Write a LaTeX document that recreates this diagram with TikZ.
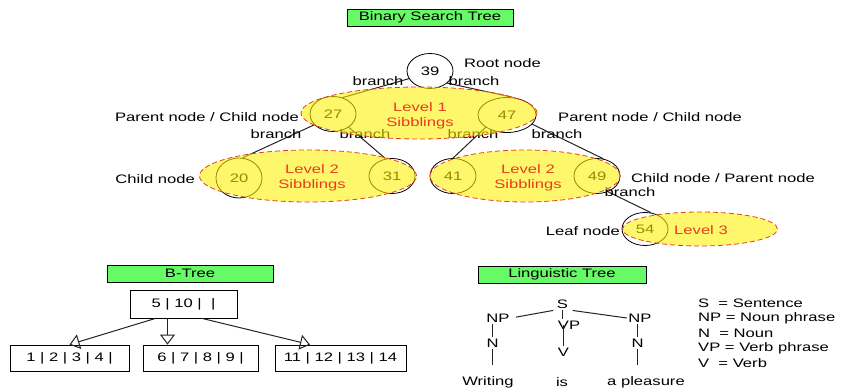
\documentclass[tikz,border=0pt]{standalone}
\usepackage{fontspec}
\setmainfont{Liberation Sans}[FakeStretch=1.35]
\usetikzlibrary{arrows.meta,shapes.geometric}
\definecolor{titlegreen}{RGB}{102,250,102}
\definecolor{lvlred}{RGB}{232,60,30}
\definecolor{inkgray}{RGB}{35,35,35}
\begin{document}
\begin{tikzpicture}[x=1pt,y=-1pt,font=\fontsize{12.3}{15}\selectfont,
  title/.style={draw=black, line width=0.8pt, fill=titlegreen, minimum width=166pt, minimum height=17pt, inner sep=0pt},
  key/.style={ellipse, draw=black, line width=0.8pt, minimum width=46pt, minimum height=35pt, inner sep=0pt},
  level/.style={ellipse, draw=lvlred, dash pattern=on 5pt off 3pt, line width=0.8pt, fill=yellow, fill opacity=0.58, draw opacity=1, inner sep=0pt},
  leveltext/.style={text=lvlred, align=center, inner sep=0pt},
  edge/.style={draw=inkgray, line width=1pt},
  lbl/.style={inner sep=0pt},
  box/.style={draw=black, line width=0.8pt, fill=white, inner sep=0pt},
  word/.style={inner sep=1.5pt},
  hollow/.tip={Triangle[open, length=10pt, width=15pt]}]
\path[use as bounding box] (0,0) rectangle (841,390);

% ---------- Binary search tree ----------
\node[title] (bst) at (430,17.5) {Binary Search Tree};

\node[key] (n39) at (430,71) {39};
\node[key] (n27) at (333,114) {27};
\node[key, minimum width=58pt] (n47) at (507,115) {47};
\node[key, minimum height=40pt] (n20) at (239,178) {20};
\node[key] (n31) at (392,176) {31};
\node[key] (n41) at (453,176) {41};
\node[key] (n49) at (597,176) {49};
\node[key, minimum height=33pt] (n54) at (645,229) {54};

\draw[edge] (n39.200) -- (n27.60);
\draw[edge] (n39.-35) -- (n47.70);
\draw[edge] (n27.210) -- (n20.80);
\draw[edge] (n27.-40) -- (n31.110);
\draw[edge] (n47.210) -- (n41.90);
\draw[edge] (n47.-20) -- (n49.70);
\draw[edge] (n49.-55) -- (n54.70);

\node[lbl] (br1) at (378,81) {branch};
\node[lbl] (br2) at (474,81) {branch};
\node[lbl] (br3) at (276,134) {branch};
\node[lbl] (br4) at (365,134) {branch};
\node[lbl] (br5) at (473,134) {branch};
\node[lbl] (br6) at (557,134) {branch};
\node[lbl] (br7) at (630,192) {branch};

% sibling groups, translucent over the keys
\node[level, minimum width=236pt, minimum height=52pt] (lv1) at (419,113) {};
\node[level, minimum width=217pt, minimum height=52pt] (lv2a) at (308,176) {};
\node[level, minimum width=190pt, minimum height=52pt] (lv2b) at (525,176) {};
\node[level, minimum width=155pt, minimum height=34pt] (lv3) at (700,229) {};

\node[leveltext] (t1) at (420,115.5) {Level 1\\Sibblings};
\node[leveltext] (t2a) at (312,177.5) {Level 2\\Sibblings};
\node[leveltext] (t2b) at (528,177.5) {Level 2\\Sibblings};
\node[leveltext] (t3) at (701,230) {Level 3};

\node[lbl, anchor=west] (rootlbl) at (464,63) {Root node};
\node[lbl, anchor=east] (pcl) at (299,117) {Parent node / Child node};
\node[lbl, anchor=west] (pcr) at (558,117) {Parent node / Child node};
\node[lbl, anchor=east] (cl) at (195,179) {Child node};
\node[lbl, anchor=west] (cpr) at (631,178) {Child node / Parent node};
\node[lbl, anchor=east] (leaf) at (620,231) {Leaf node};

% ---------- B-tree ----------
\node[title] (btt) at (190,273.5) {B-Tree};
\node[box, minimum width=107pt, minimum height=28pt] (broot) at (183.5,304) {5 | 10 | \ |};
\node[box, minimum width=119pt, minimum height=26pt] (b1) at (69.5,358) {1 | 2 | 3 | 4 |};
\node[box, minimum width=115pt, minimum height=26pt] (b2) at (200.5,358) {6 | 7 | 8 | 9 |};
\node[box, minimum width=131pt, minimum height=26pt] (b3) at (340.5,358) {11 | 12 | 13 | 14};

\draw[edge, -hollow] ([xshift=-28pt]broot.south) -- (b1.north);
\draw[edge, -hollow] ([xshift=-16pt]broot.south) -- ([xshift=-33pt]b2.north);
\draw[edge, -hollow] ([xshift=18.5pt]broot.south) -- ([xshift=-30.5pt]b3.north);

% ---------- Linguistic tree ----------
\node[title, minimum width=168pt] (ltt) at (562,274.5) {Linguistic Tree};
\node[word] (s) at (562.5,304) {S};
\node[word] (npl) at (498,318) {NP};
\node[word] (vp) at (569,325) {VP};
\node[word] (npr) at (640,318) {NP};
\node[word] (nl) at (492.5,343) {N};
\node[word] (v) at (563.5,352) {V};
\node[word] (nr) at (637.5,343) {N};
\node[word] (w1) at (488,382) {Writing};
\node[word] (w2) at (562,382) {is};
\node[word] (w3) at (646,382) {a pleasure};

\draw[edge, shorten <=5pt, shorten >=2pt] (npl.east) -- (s.south west);
\draw[edge, shorten <=3pt] (s.south east) -- (npr.west);
\draw[edge] (s.south) -- (s.south |- vp.north);
\draw[edge] (v.north |- vp.center) -- (v.north);
\draw[edge] (npl.south -| nl.north) -- (nl.north);
\draw[edge, shorten >=10pt] (nl.south) -- (w1.north -| nl.south);
\draw[edge] (npr.south -| nr.north) -- (nr.north);
\draw[edge, shorten >=10pt] (nr.south) -- (w3.north -| nr.south);

\node[lbl, anchor=west] (k1) at (698,303) {S\ \ = Sentence};
\node[lbl, anchor=west] (k2) at (698,318) {NP = Noun phrase};
\node[lbl, anchor=west] (k3) at (698,333) {N\ \ = Noun};
\node[lbl, anchor=west] (k4) at (698,348) {VP = Verb phrase};
\node[lbl, anchor=west] (k5) at (698,363) {V\ \ = Verb};
\end{tikzpicture}
\end{document}
